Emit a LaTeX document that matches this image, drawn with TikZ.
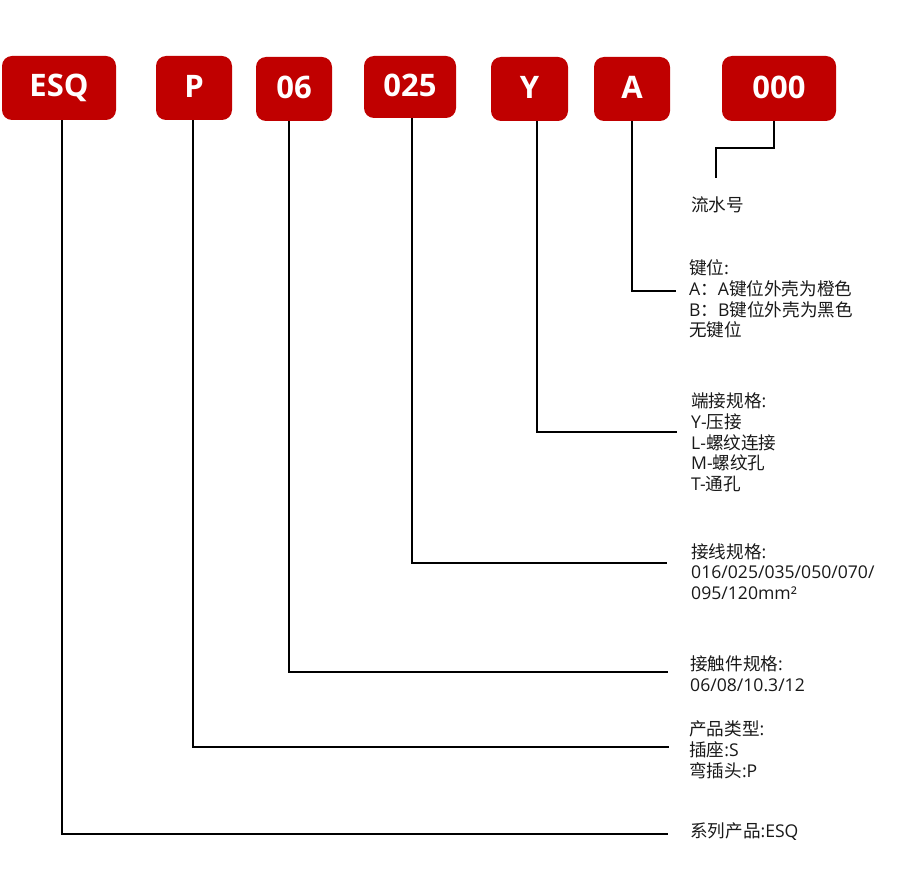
\documentclass[tikz,border=0pt]{standalone}
\usepackage{fontspec}
\setmainfont{Open Sans}
\newfontfamily\cjk{Noto Sans CJK SC}
\definecolor{boxred}{HTML}{C00000}
\begin{document}
\begin{tikzpicture}[x=1pt,y=-1pt,
  codebox/.style={fill=boxred, rounded corners=10pt, text=white,
    font=\fontsize{31}{31}\selectfont\bfseries, minimum height=64pt, inner sep=0pt},
  desc/.style={anchor=west, align=left, inner sep=0pt, text=black!90,
    font=\fontsize{17.6}{20.8}\selectfont},
  lead/.style={draw=black, line width=1.8pt}]
\useasboundingbox (0,0) rectangle (922,896);
% code boxes
\node[codebox, minimum width=114pt] (esq) at (59,88) {\raisebox{3pt}{ESQ}};
\node[codebox, minimum width=76pt] (p) at (194,88) {\raisebox{3pt}{P}};
\node[codebox, minimum width=76pt] (n06) at (294,89) {\raisebox{3pt}{06}};
\node[codebox, minimum width=92pt, minimum height=62pt] (n025) at (410,87) {\raisebox{3pt}{025}};
\node[codebox, minimum width=77pt] (y) at (529.5,89) {\raisebox{3pt}{Y}};
\node[codebox, minimum width=76pt] (a) at (632,89) {\raisebox{3pt}{A}};
\node[codebox, minimum width=114pt, minimum height=65pt] (zero) at (779,88.5) {\raisebox{3pt}{000}};
% descriptions
\node[desc] (tls) at (691,205) {{\cjk 流水号}};
\node[desc] (tjw) at (689,299) {{\cjk 键位:}\\A{\cjk ：}A{\cjk 键位外壳为橙色}\\B{\cjk ：}B{\cjk 键位外壳为黑色}\\{\cjk 无键位}};
\node[desc] (tdj) at (691,442.5) {{\cjk 端接规格}:\\Y-{\cjk 压接}\\L-{\cjk 螺纹连接}\\M-{\cjk 螺纹孔}\\T-{\cjk 通孔}};
\node[desc] (tjx) at (691,571.5) {{\cjk 接线规格}:\\016/025/035/050/070/\\095/120mm²};
\node[desc] (tcj) at (690,673.5) {{\cjk 接触件规格}:\\06/08/10.3/12};
\node[desc] (tlx) at (689,750) {{\cjk 产品类型}:\\{\cjk 插座}:S\\{\cjk 弯插头}:P};
\node[desc] (txl) at (690,832) {{\cjk 系列产品}:ESQ};
% leader ends
\coordinate (ezero) at (716,178);
\coordinate (ea) at (676,291);
\coordinate (ey) at (677,432);
\coordinate (e025) at (667,563);
\coordinate (e06) at (668,672);
\coordinate (ep) at (669,747);
\coordinate (eesq) at (668,834);
% leaders
\draw[lead] ([xshift=-5pt]zero.south) -- ++(0,27) -| (ezero);
\draw[lead] (a.south) |- (ea);
\draw[lead] ([xshift=7.5pt]y.south) |- (ey);
\draw[lead] ([xshift=2pt]n025.south) |- (e025);
\draw[lead] ([xshift=-5pt]n06.south) |- (e06);
\draw[lead] ([xshift=-1pt]p.south) |- (ep);
\draw[lead] ([xshift=3pt]esq.south) |- (eesq);
\end{tikzpicture}
\end{document}
